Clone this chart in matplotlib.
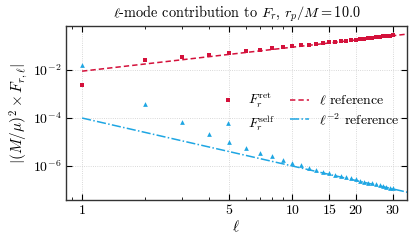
import matplotlib
matplotlib.use("Agg")
import matplotlib.pyplot as plt
import matplotlib.ticker as mticker
import numpy as np

plt.rcParams["font.family"] = "serif"
plt.rcParams["font.serif"] = ["cmr10", "DejaVu Serif"]
plt.rcParams["mathtext.fontset"] = "cm"
plt.rcParams["axes.formatter.use_mathtext"] = True
plt.rcParams["axes.unicode_minus"] = False

# l-modes and the two force components
ell = list(range(1, 31))
F_ret = [2.5e-3, 0.026, 0.035, 0.044, 0.053, 0.062, 0.071, 0.080, 0.089, 0.098,
         0.107, 0.116, 0.125, 0.134, 0.143, 0.152, 0.161, 0.170, 0.179, 0.188,
         0.197, 0.206, 0.215, 0.224, 0.233, 0.242, 0.251, 0.260, 0.269, 0.278]
F_self = [1.6e-2, 3.8e-4, 6.8e-5, 2.2e-5, 1.0e-5, 5.8e-6, 3.6e-6, 2.5e-6, 1.8e-6, 1.37e-6,
          1.07e-6, 8.5e-7, 7.0e-7, 5.9e-7, 5.07e-7, 4.41e-7, 3.88e-7, 3.43e-7, 3.05e-7, 2.74e-7,
          2.47e-7, 2.24e-7, 2.04e-7, 1.87e-7, 1.71e-7, 1.58e-7, 1.46e-7, 1.35e-7, 1.26e-7, 1.18e-7]

# power-law reference lines: a*l and b*l^-2
ref_ell = np.array([1.0, 40.0])
ref_lin_coef = 0.009
ref_inv2_coef = 1e-4

xticks = [1, 5, 10, 15, 20, 30]
yticks = [1e-2, 1e-4, 1e-6]

red = "#d4113b"
blue = "#1ea6e3"

fig = plt.figure(figsize=(4.16, 2.44), dpi=100)
ax = fig.add_axes([0.159, 0.180, 0.819, 0.713])

ax.plot(ell, F_ret, "s", color=red, markersize=2.8, markeredgewidth=0, label=r"$F_r^{\rm ret}$")
ax.plot(ell, F_self, "^", color=blue, markersize=3.4, markeredgewidth=0, label=r"$F_r^{\rm self}$")
ax.plot(ref_ell, ref_lin_coef * ref_ell, "--", color=red, linewidth=1.1, dashes=(3.5, 2),
        label=r"$\ell$ reference")
ax.plot(ref_ell, ref_inv2_coef * ref_ell ** -2.0, "-.", color=blue, linewidth=1.1,
        dashes=(6, 1.5, 1, 1.5), label=r"$\ell^{-2}$ reference")

ax.set_xscale("log")
ax.set_yscale("log")
ax.set_xlim(0.84, 35)
ax.set_ylim(3.8e-8, 0.68)

ax.xaxis.set_major_locator(mticker.FixedLocator(xticks))
ax.xaxis.set_major_formatter(mticker.FixedFormatter([str(t) for t in xticks]))
ax.xaxis.set_minor_locator(mticker.LogLocator(subs=np.arange(2, 10) / 1.0))
ax.xaxis.set_minor_formatter(mticker.NullFormatter())
ax.yaxis.set_major_locator(mticker.FixedLocator(yticks))
ax.yaxis.set_major_formatter(mticker.LogFormatterSciNotation())
ax.yaxis.set_minor_locator(mticker.NullLocator())

ax.tick_params(which="both", direction="in", top=True, right=True, labelsize=10)
ax.tick_params(which="major", length=4, width=0.8)
ax.tick_params(which="minor", length=2, width=0.6)
ax.grid(True, which="major", linestyle=":", linewidth=0.6, color="#cccccc")
for s in ax.spines.values():
    s.set_linewidth(1.0)
    s.set_color("#333333")

ax.set_title(r"$\ell$-mode contribution to $F_r$, $r_p/M = 10.0$", fontsize=10.3)
ax.set_xlabel(r"$\ell$", fontsize=11, labelpad=1)
ax.set_ylabel(r"$|(M/\mu)^2 \times F_{r,\ell}|$", fontsize=11, labelpad=2)

ax.legend(ncol=2, loc="center", bbox_to_anchor=(0.712, 0.505), frameon=False, fontsize=10,
          handlelength=1.4, columnspacing=1.1, labelspacing=0.25, handletextpad=0.7)

fig.savefig("out.png", dpi=100)
